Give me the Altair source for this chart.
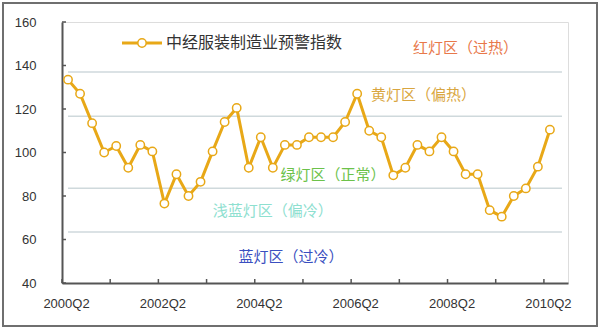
import altair as alt
import pandas as pd

# ---- data ----
quarters = [f"{2000 + (i + 1) // 4}Q{(i + 1) % 4 + 1}" for i in range(41)]  # 2000Q2 .. 2010Q2
index_values = [133.5, 127, 113.5, 100, 103, 93, 103.5, 100.5, 76.5, 90,
                80, 86.5, 100.5, 114, 120.5, 93, 107, 93, 103.5, 103.5,
                107, 107, 107, 114, 127, 110, 107, 89.5, 93, 103.5,
                100.5, 107, 100.5, 90, 90, 73.5, 70.5, 80, 83.5, 93.5,
                110.5]
series_name = "中经服装制造业预警指数"

thresholds = [137, 116.7, 83.6, 63.5]

zone_labels = ["红灯区（过热）", "黄灯区（偏热）", "绿灯区（正常）", "浅蓝灯区（偏冷）", "蓝灯区（过冷）"]
zone_x = [33, 29.5, 22, 17, 18.5]
zone_y = [148, 126.4, 89.7, 73.2, 52]
zone_colors = ["#e8784a", "#d9a640", "#6cc24a", "#8ee0d0", "#3a4fc0"]

x_tick_positions = [-0.5 + 4 * k for k in range(11)]
x_tick_labels = ["2000Q2", "", "2002Q2", "", "2004Q2", "", "2006Q2", "", "2008Q2", "", "2010Q2"]
y_ticks = [40, 60, 80, 100, 120, 140, 160]

# ---- tables ----
df = pd.DataFrame({"i": list(range(len(index_values))), "quarter": quarters, "value": index_values})
grid_df = pd.DataFrame({"y": thresholds, "x0": 0, "x1": 41})
zones_df = pd.DataFrame({"label": zone_labels, "x": zone_x, "y": zone_y, "color": zone_colors})
xt_df = pd.DataFrame({"x": x_tick_positions})
yt_df = pd.DataFrame({"y": y_ticks})

W, H = 506, 261
FONT = "Noto Sans CJK SC"
LINE_COLOR = "#e8a817"

xscale = alt.Scale(domain=[-0.5, 41.5], nice=False, zero=False)
yscale = alt.Scale(domain=[40, 160], nice=False, zero=False)

label_list = "[" + ",".join(f"'{s}'" for s in x_tick_labels) + "]"

x_axis = alt.Axis(values=x_tick_positions, ticks=False, tickSize=0, grid=False,
                  domainColor="#555555", domainWidth=2,
                  labelExpr=f"{label_list}[round((datum.value + 0.5) / 4)]",
                  labelFont="Liberation Sans", labelFontSize=13, labelColor="#333333",
                  labelPadding=14, labelOffset=4, labelFlush=False, title=None)
y_axis = alt.Axis(values=y_ticks, ticks=False, tickSize=0, grid=False,
                  domainColor="#555555", domainWidth=2,
                  labelFont="Liberation Sans", labelFontSize=13, labelColor="#333333",
                  labelPadding=26, title=None)

# frame around whole picture
frame = alt.Chart(pd.DataFrame({"a": [0]})).mark_rect(
    fill=None, stroke="#6f6f6f", strokeWidth=2, clip=False
).encode(x=alt.value(-59), x2=alt.value(535), y=alt.value(-19), y2=alt.value(304))

grid = alt.Chart(grid_df).mark_rule(color="#cfd9dc", strokeWidth=1.5).encode(
    x=alt.X("x0:Q", scale=xscale, axis=x_axis),
    x2="x1:Q",
    y=alt.Y("y:Q", scale=yscale, axis=y_axis),
)

xticks = alt.Chart(xt_df).mark_rule(color="#555555", strokeWidth=1.5).encode(
    x=alt.X("x:Q", scale=xscale),
    y=alt.value(H),
    y2=alt.value(H - 4),
)
yticks = alt.Chart(yt_df).mark_rule(color="#555555", strokeWidth=1.5).encode(
    y=alt.Y("y:Q", scale=yscale),
    x=alt.value(0),
    x2=alt.value(4),
)

line = alt.Chart(df).mark_line(color=LINE_COLOR, strokeWidth=3).encode(
    x=alt.X("i:Q", scale=xscale),
    y=alt.Y("value:Q", scale=yscale),
)
points = alt.Chart(df).mark_point(
    shape="circle", filled=True, fill="white", stroke=LINE_COLOR, strokeWidth=1.5, size=70, opacity=1
).encode(
    x=alt.X("i:Q", scale=xscale),
    y=alt.Y("value:Q", scale=yscale),
    tooltip=["quarter", "value"],
)

zones = alt.Chart(zones_df).mark_text(font=FONT, fontSize=15, align="center", baseline="middle").encode(
    x=alt.X("x:Q", scale=xscale),
    y=alt.Y("y:Q", scale=yscale),
    text="label:N",
    color=alt.Color("color:N", scale=None),
)

# custom legend
legend_df = pd.DataFrame({"name": [series_name]})
leg_line = alt.Chart(legend_df).mark_rule(color=LINE_COLOR, strokeWidth=3).encode(
    x=alt.value(60), x2=alt.value(100), y=alt.value(21)
)
leg_pt = alt.Chart(legend_df).mark_point(
    shape="circle", filled=True, fill="white", stroke=LINE_COLOR, strokeWidth=1.5, size=70, opacity=1
).encode(x=alt.value(80), y=alt.value(21))
leg_txt = alt.Chart(legend_df).mark_text(
    font=FONT, fontSize=16, align="left", baseline="middle", color="#333333"
).encode(x=alt.value(104), y=alt.value(21), text="name:N")

chart = alt.layer(
    frame, grid, xticks, yticks, zones, line, points, leg_line, leg_pt, leg_txt
).properties(
    width=W, height=H,
    autosize=alt.AutoSizeParams(type="none"),
    padding={"left": 62, "top": 22, "right": 32, "bottom": 47},
).configure_view(stroke=None).configure(background="white")

chart.save("out.html", embed_options={"renderer": "svg", "actions": False})
